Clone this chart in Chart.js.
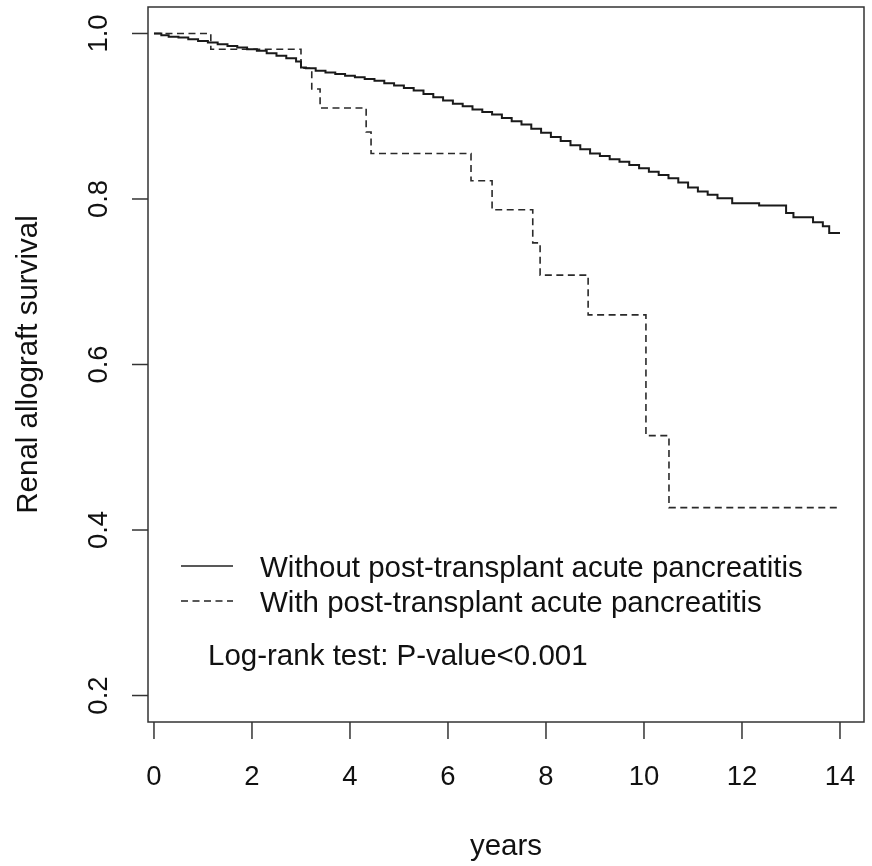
<!DOCTYPE html>
<html>
<head>
<meta charset="utf-8">
<script src="https://cdn.jsdelivr.net/npm/chart.js@4/dist/chart.umd.min.js"></script>
<style>
  html, body { margin: 0; padding: 0; background: #fff; }
  #wrap { width: 872px; height: 866px; }
</style>
</head>
<body>
<div id="wrap"><canvas id="km"></canvas></div>
<script>
// Kaplan-Meier steps (time in years, survival)
const noPancTimes = [0, 0.15, 0.3, 0.5, 0.7, 0.9, 1.1, 1.3, 1.5, 1.7, 1.9, 2.1, 2.3, 2.5, 2.7, 2.9,
  3.0, 3.1, 3.3, 3.5, 3.7, 3.9, 4.1, 4.3, 4.5, 4.7, 4.9, 5.1, 5.3, 5.5, 5.7, 5.9, 6.1, 6.3, 6.5,
  6.7, 6.9, 7.1, 7.3, 7.5, 7.7, 7.9, 8.1, 8.3, 8.5, 8.7, 8.9, 9.1, 9.3, 9.5, 9.7, 9.9, 10.1, 10.3,
  10.5, 10.7, 10.9, 11.1, 11.3, 11.5, 11.8, 12.35, 12.9, 13.05, 13.45, 13.65, 13.78, 14.0];
const noPancSurv = [1.0, 0.998, 0.996, 0.995, 0.993, 0.991, 0.989, 0.987, 0.985, 0.983, 0.981, 0.979,
  0.976, 0.973, 0.970, 0.966, 0.959, 0.958, 0.955, 0.953, 0.951, 0.949, 0.947, 0.945, 0.943, 0.940,
  0.937, 0.934, 0.931, 0.927, 0.923, 0.919, 0.915, 0.912, 0.908, 0.905, 0.902, 0.898, 0.894, 0.890,
  0.885, 0.880, 0.875, 0.870, 0.865, 0.860, 0.855, 0.852, 0.848, 0.845, 0.841, 0.837, 0.833, 0.829,
  0.825, 0.820, 0.814, 0.809, 0.805, 0.801, 0.795, 0.792, 0.783, 0.778, 0.772, 0.767, 0.759, 0.759];

const pancTimes = [0, 1.16, 3.0, 3.22, 3.39, 4.33, 4.43, 6.47, 6.90, 7.73, 7.88, 8.86, 10.04, 10.51, 13.94];
const pancSurv  = [1.0, 0.981, 0.958, 0.933, 0.910, 0.881, 0.855, 0.822, 0.787, 0.747, 0.708, 0.660, 0.514, 0.427, 0.427];

const xTicks = [0, 2, 4, 6, 8, 10, 12, 14];
const yTicks = [0.2, 0.4, 0.6, 0.8, 1.0];
const legendLabels = ['Without post-transplant acute pancreatitis', 'With post-transplant acute pancreatitis'];
const noteText = 'Log-rank test: P-value<0.001';

const FAMILY = '"Liberation Sans", Arial, sans-serif';
const TEXT_FONT = '29.5px ' + FAMILY;
const TICK_FONT = '27.5px ' + FAMILY;
const DASH = [7, 4.5];
const toPoints = (ts, ss) => ts.map((t, i) => ({ x: t, y: ss[i] }));

// box, ticks, labels, legend drawn by hand (R base-graphics look)
const rAxes = {
    id: 'rAxes',
    afterDraw(chart) {
        const { ctx, chartArea: a, scales: { x, y } } = chart;
        ctx.save();
        ctx.strokeStyle = '#333';
        ctx.lineWidth = 1.5;
        ctx.strokeRect(a.left, a.top, a.right - a.left, a.bottom - a.top);

        ctx.fillStyle = '#111';
        ctx.textAlign = 'center';
        ctx.textBaseline = 'alphabetic';

        ctx.font = TICK_FONT;
        xTicks.forEach(v => {
            const px = x.getPixelForValue(v);
            ctx.beginPath();
            ctx.moveTo(px, a.bottom);
            ctx.lineTo(px, a.bottom + 17);
            ctx.stroke();
            ctx.fillText(String(v), px, a.bottom + 63);
        });
        yTicks.forEach(v => {
            const py = y.getPixelForValue(v);
            ctx.beginPath();
            ctx.moveTo(a.left, py);
            ctx.lineTo(a.left - 16, py);
            ctx.stroke();
            ctx.save();
            ctx.translate(a.left - 41, py);
            ctx.rotate(-Math.PI / 2);
            ctx.fillText(v.toFixed(1), 0, 0);
            ctx.restore();
        });

        ctx.font = TEXT_FONT;
        ctx.fillText('years', (a.left + a.right) / 2, a.bottom + 133);
        ctx.save();
        ctx.translate(a.left - 111, (a.top + a.bottom) / 2);
        ctx.rotate(-Math.PI / 2);
        ctx.fillText('Renal allograft survival', 0, 0);
        ctx.restore();

        // legend
        const lx = a.left + 33, ly = a.top + 559;
        ctx.textAlign = 'left';
        ctx.strokeStyle = '#222';
        ctx.lineWidth = 1.6;
        [[], DASH].forEach((dash, i) => {
            const yy = ly + i * 35;
            ctx.setLineDash(dash);
            ctx.beginPath();
            ctx.moveTo(lx, yy);
            ctx.lineTo(lx + 52, yy);
            ctx.stroke();
            ctx.fillText(legendLabels[i], lx + 79, yy + 11);
        });
        ctx.setLineDash([]);
        ctx.fillText(noteText, a.left + 60, a.top + 658);
        ctx.restore();
    }
};

new Chart(document.getElementById('km'), {
    type: 'line',
    data: {
        datasets: [
            {
                label: legendLabels[0],
                data: toPoints(noPancTimes, noPancSurv),
                borderColor: '#1a1a1a', borderWidth: 2, stepped: true,
                pointRadius: 0, fill: false
            },
            {
                label: legendLabels[1],
                data: toPoints(pancTimes, pancSurv),
                borderColor: '#2a2a2a', borderWidth: 1.6, borderDash: DASH, stepped: true,
                pointRadius: 0, fill: false
            }
        ]
    },
    options: {
        responsive: true, maintainAspectRatio: false, animation: false,
        layout: { padding: { left: 148, right: 8, top: 7, bottom: 144 } },
        plugins: { legend: { display: false }, tooltip: { enabled: false } },
        scales: {
            x: { type: 'linear', display: false, min: -0.122, max: 14.49 },
            y: { type: 'linear', display: false, min: 0.168, max: 1.032 }
        }
    },
    plugins: [rAxes]
});
</script>
</body>
</html>
